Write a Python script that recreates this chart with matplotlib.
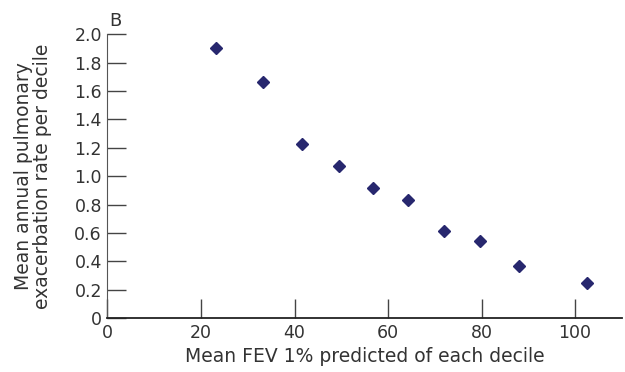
import matplotlib
matplotlib.use('Agg')
from matplotlib import pyplot as plt

# mean FEV1 % predicted per decile and mean annual exacerbation rate
fev1_pct = [23.1, 33.3, 41.7, 49.4, 56.8, 64.3, 71.9, 79.6, 88.0, 102.6]
exac_rate = [1.90, 1.66, 1.23, 1.07, 0.915, 0.83, 0.61, 0.54, 0.367, 0.25]

x_ticks = [0, 20, 40, 60, 80, 100]
y_ticks = [0, 0.2, 0.4, 0.6, 0.8, 1.0, 1.2, 1.4, 1.6, 1.8, 2.0]
y_labels = ['0', '0.2', '0.4', '0.6', '0.8', '1.0', '1.2', '1.4', '1.6', '1.8', '2.0']

plt.rcParams['font.family'] = ['DejaVu Sans']

fig = plt.figure(figsize=(6.25, 3.72), dpi=100)
ax = fig.add_axes([0.172, 0.145, 0.823, 0.763])

ax.plot(fev1_pct, exac_rate, linestyle='none', marker='D', markersize=6,
        color='#27276e')

ax.set_xlim(0, 110)
ax.set_ylim(0, 2.0)
ax.set_xticks(x_ticks)
ax.set_yticks(y_ticks)
ax.set_yticklabels(y_labels)

ax.spines['top'].set_visible(False)
ax.spines['right'].set_visible(False)
ax.spines['left'].set_color('#555555')
ax.spines['bottom'].set_color('#222222')
ax.spines['bottom'].set_linewidth(1.3)

ax.tick_params(direction='in', length=14, width=1, color='#444444',
               labelsize=12.5, labelcolor='#333333', pad=4)

ax.set_xlabel('Mean FEV 1% predicted of each decile', fontsize=13.5, color='#333333', labelpad=4)
ax.set_ylabel('Mean annual pulmonary\nexacerbation rate per decile', fontsize=13.5,
              color='#333333', labelpad=16, linespacing=1.0)

ax.text(0.003, 1.015, 'B', transform=ax.transAxes, fontsize=13, color='#333333',
        ha='left', va='bottom')

plt.savefig('out.png', dpi=100)
